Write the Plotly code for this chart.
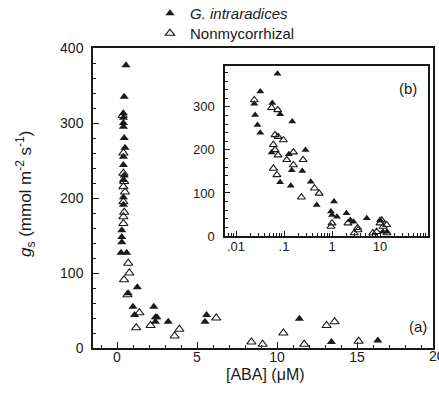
import plotly.graph_objects as go

W, H = 439, 416

# ---- main panel (a): linear ABA axis ----
gi_aba = [0.56, 0.45, 0.4, 0.4, 0.4, 0.45, 0.5, 0.4, 0.4, 0.4, 0.4, 0.4, 0.3, 0.3, 0.3, 0.25, 0.6,
          0.7, 1.27, 1.0, 1.1, 2.3, 2.4, 2.5, 2.4, 3.2, 5.6, 5.5, 11.4, 13.4, 16.3, 0.4, 0.45]
gi_gs = [377, 335, 313, 307, 295, 280, 267, 255, 244, 224, 201, 191, 157, 148, 141, 127, 127,
         73, 81, 55, 44, 55, 41, 41, 35, 35, 44, 35, 39, 8, 10, 300, 230]
nm_aba = [0.35, 0.4, 0.4, 0.5, 0.45, 0.4, 0.4, 0.7, 0.77, 0.44, 0.65, 1.4, 1.2, 2.1, 3.9, 3.6,
          6.2, 8.4, 9.1, 10.4, 11.7, 13.1, 13.6, 15.1, 0.4, 0.45, 0.4]
nm_gs = [310, 233, 215, 208, 181, 166, 195, 113, 100, 91, 71, 47, 27, 30, 25, 16,
         40, 8, 5, 20, 5, 30, 35, 9, 260, 222, 175]

# ---- inset panel (b): log ABA axis ----
gi_aba_log = [0.073, 0.032, 0.024, 0.057, 0.083, 0.025, 0.028, 0.032, 0.148, 0.28, 0.055, 0.126,
              0.145, 0.24, 0.083, 0.138, 0.36, 0.48, 1.1, 0.95, 2.0, 2.4, 2.8, 5.3, 10, 11.5, 1.0,
              1.27, 14]
gi_gs_log = [377, 336, 307, 309, 283, 281, 258, 240, 266, 200, 194, 190,
             153, 151, 125, 117, 126, 72, 80, 57, 53, 37, 33, 41, 37, 10, 49,
             45, 10]
nm_aba_log = [0.024, 0.055, 0.074, 0.065, 0.075, 0.097, 0.060, 0.065, 0.075, 0.157, 0.114, 0.157,
              0.060, 0.071, 0.25, 0.23, 0.54, 0.43, 0.95, 1.0, 2.15, 3.4, 2.9, 10, 13.8, 8.5,
              14, 7.1, 10.8, 11.6, 3.5]
nm_gs_log = [316, 298, 293, 235, 231, 223, 212, 200, 188, 195, 177, 165,
             157, 142, 177, 90, 99, 111, 22, 30, 30, 19, 7, 30, 26, 10,
             7, 7, 37, 22, 14]

legend_names = ["<i>G. intraradices</i>", "Nonmycorrhizal"]
x_main_ticks = [0, 5, 10, 15]
x_main_last_label = "20"
y_main_ticks = [0, 100, 200, 300, 400]
x_inset_ticks = [0.01, 0.1, 1, 10]
x_inset_labels = [".01", ".1", "1", "10"]
y_inset_ticks = [0, 100, 200, 300]

FONT = "Liberation Sans, Arial, sans-serif"
INK = "#1a1a1a"

fig = go.Figure()
fig.add_trace(go.Scatter(x=gi_aba, y=gi_gs, mode="markers", name=legend_names[0],
                         marker=dict(symbol="triangle-up", size=8, color=INK),
                         xaxis="x", yaxis="y", legend="legend"))
fig.add_trace(go.Scatter(x=nm_aba, y=nm_gs, mode="markers", name=legend_names[1],
                         marker=dict(symbol="triangle-up-open", size=8, color=INK,
                                     line=dict(width=1.2, color=INK)),
                         xaxis="x", yaxis="y", legend="legend2"))
fig.add_trace(go.Scatter(x=gi_aba_log, y=gi_gs_log, mode="markers", showlegend=False,
                         marker=dict(symbol="triangle-up", size=7, color=INK),
                         xaxis="x2", yaxis="y2"))
fig.add_trace(go.Scatter(x=nm_aba_log, y=nm_gs_log, mode="markers", showlegend=False,
                         marker=dict(symbol="triangle-up-open", size=7, color=INK,
                                     line=dict(width=1.1, color=INK)),
                         xaxis="x2", yaxis="y2"))

axis_common = dict(showline=True, linecolor=INK, linewidth=1.5, mirror=True,
                   ticks="inside", tickcolor=INK, tickwidth=1.2, showgrid=False,
                   zeroline=False, automargin=False)
main_font = dict(family=FONT, size=14, color=INK)
inset_font = dict(family=FONT, size=13, color=INK)
legend_style = dict(xanchor="left", yanchor="top", bgcolor="rgba(0,0,0,0)",
                    font=dict(family=FONT, size=15, color=INK), itemwidth=30)

fig.update_layout(
    width=W, height=H,
    margin=dict(l=0, r=0, t=0, b=0, autoexpand=False),
    paper_bgcolor="white", plot_bgcolor="rgba(0,0,0,0)",
    font=dict(family=FONT, color=INK),
    xaxis=dict(domain=[93 / W, 433 / W], range=[-1.5, 19.75], tickvals=x_main_ticks,
               ticklen=6, minor=dict(dtick=1, ticklen=3, tickcolor=INK, ticks="inside"),
               anchor="y", tickfont=main_font, ticklabelstandoff=-5, **axis_common),
    yaxis=dict(domain=[1 - 348 / H, 1 - 48 / H], range=[0, 400], tickvals=y_main_ticks,
               ticklen=6, minor=dict(dtick=20, ticklen=3, tickcolor=INK, ticks="inside"),
               anchor="x", tickfont=main_font, ticklabelstandoff=5, **axis_common),
    xaxis2=dict(domain=[225 / W, 428 / W], type="log", range=[-2.23, 2.0],
                tickvals=x_inset_ticks, ticktext=x_inset_labels, ticklen=5,
                minor=dict(ticklen=3, tickcolor=INK, ticks="inside",
                           tickvals=[m * 10 ** e for e in range(-3, 2) for m in range(2, 10)]),
                anchor="y2", tickfont=inset_font, ticklabelstandoff=-2, **axis_common),
    yaxis2=dict(domain=[1 - 236 / H, 1 - 66 / H], range=[0, 395], tickvals=y_inset_ticks,
                ticklen=5, minor=dict(dtick=20, ticklen=3, tickcolor=INK, ticks="inside"),
                anchor="x2", tickfont=inset_font, ticklabelstandoff=6, **axis_common),
    legend=dict(x=150 / W, y=1 + 3 / H, **legend_style),
    legend2=dict(x=150 / W, y=1 - 17 / H, **legend_style),
    annotations=[
        dict(text="<i>g</i><sub>s</sub> (mmol m<sup>-2</sup> s<sup>-1</sup>)", textangle=-90,
             x=25 / W, y=1 - 194 / H, xref="paper", yref="paper", xanchor="center",
             yanchor="middle", showarrow=False, font=dict(family=FONT, size=17, color=INK)),
        dict(text="[ABA] (μM)", x=265 / W, y=1 - 374 / H, xref="paper", yref="paper",
             xanchor="center", yanchor="middle",
             showarrow=False, font=dict(family=FONT, size=16, color=INK)),
        dict(text=x_main_last_label, x=437 / W, y=1 - 356 / H, xref="paper", yref="paper",
             xanchor="center", yanchor="middle",
             showarrow=False, font=main_font),
        dict(text="(a)", x=418 / W, y=1 - 326 / H, xref="paper", yref="paper",
             xanchor="center", yanchor="middle",
             showarrow=False, font=dict(family=FONT, size=15, color=INK)),
        dict(text="(b)", x=408 / W, y=1 - 88 / H, xref="paper", yref="paper",
             xanchor="center", yanchor="middle",
             showarrow=False, font=dict(family=FONT, size=15, color=INK)),
    ],
)

fig.write_html("out.html", config={"displayModeBar": False},
               post_script="document.body.style.margin='0px';")
